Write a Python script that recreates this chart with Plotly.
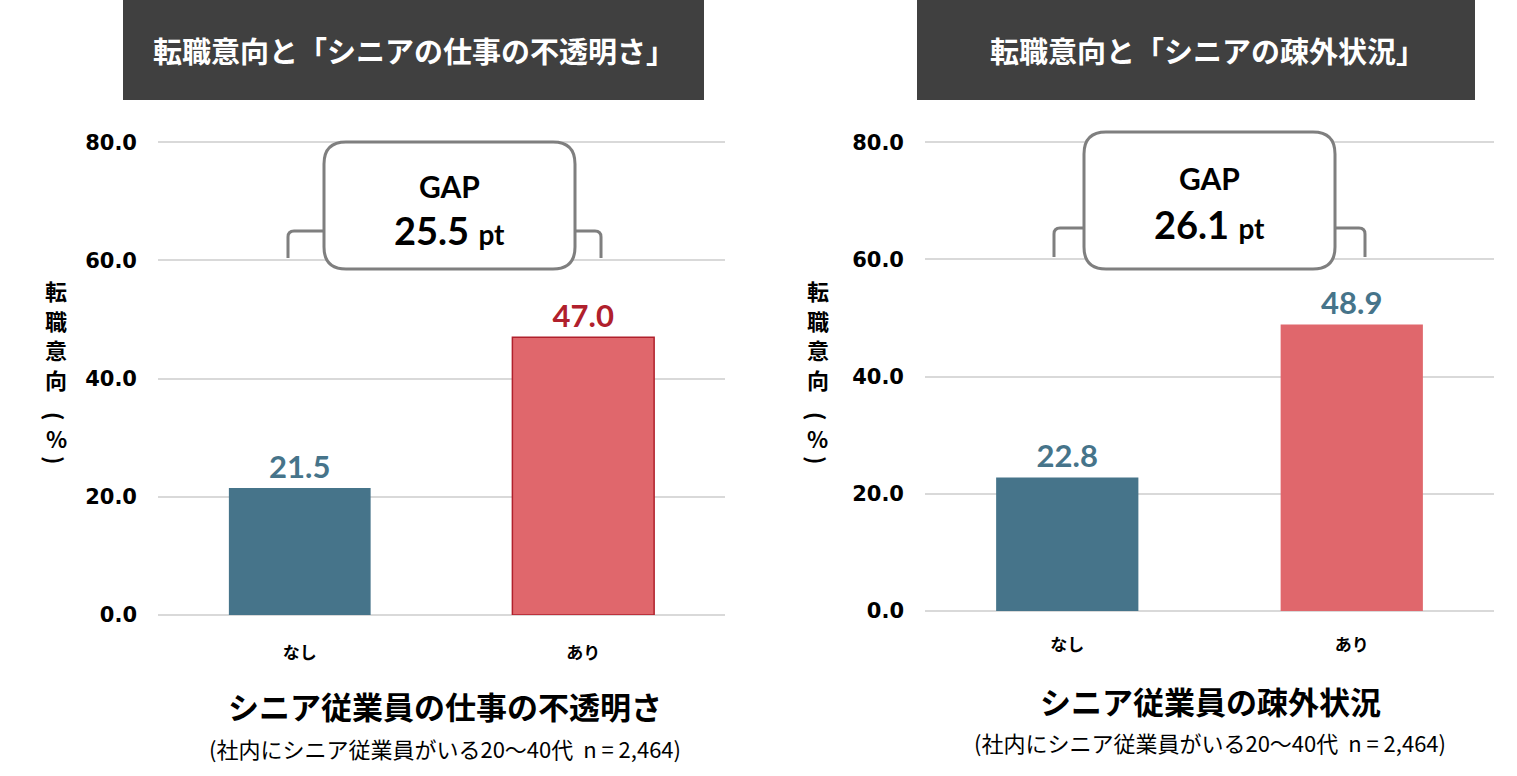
import plotly.graph_objects as go

W, H = 1517, 776

# ---- data ----
categories = ["なし", "あり"]
values_left = [21.5, 47.0]
values_right = [22.8, 48.9]
gap_left = "25.5"
gap_right = "26.1"
panel_titles = ["転職意向と「シニアの仕事の不透明さ」", "転職意向と「シニアの疎外状況」"]
x_titles = ["シニア従業員の仕事の不透明さ", "シニア従業員の疎外状況"]
sub_caption = "(社内にシニア従業員がいる20～40代  n = 2,464)"
y_title_chars = ["転", "職", "意", "向", "(", "%", ")"]
tick_vals = [0, 20, 40, 60, 80]

TEAL = "#46748A"
PINK = "#E0676C"
DARKRED = "#B0202C"
GRID = "#D9D9D9"
BOXLINE = "#7F7F7F"
JP = "Noto Sans CJK JP"
NUM = "DejaVu Sans"


def PX(x):
    return x / W


def PY(y):
    return 1 - y / H


fig = go.Figure()

fig.add_trace(go.Bar(
    x=categories, y=values_left, xaxis="x", yaxis="y",
    marker=dict(color=[TEAL, PINK], line=dict(color=["rgba(0,0,0,0)", DARKRED], width=1.5)),
    width=0.5,
    text=[f"{v:.1f}" for v in values_left], textposition="outside",
    textfont=dict(family="Lato", size=31, color=[TEAL, DARKRED], weight="bold"),
    cliponaxis=False, showlegend=False, hoverinfo="skip",
))
fig.add_trace(go.Bar(
    x=categories, y=values_right, xaxis="x2", yaxis="y2",
    marker=dict(color=[TEAL, PINK], line=dict(width=0)),
    width=0.5,
    text=[f"{v:.1f}" for v in values_right], textposition="outside",
    textfont=dict(family="Lato", size=31, color=[TEAL, TEAL], weight="bold"),
    cliponaxis=False, showlegend=False, hoverinfo="skip",
))

xcommon = dict(showgrid=False, zeroline=False, showline=False, ticks="", automargin=False,
               tickfont=dict(family=JP, size=17, color="black", weight="bold"),
               range=[-0.5, 1.5], fixedrange=True)
ycommon = dict(range=[0, 80.2], tickvals=tick_vals, ticktext=[f"{v:.1f}" for v in tick_vals],
               showgrid=True, gridcolor=GRID, gridwidth=2, zeroline=True, zerolinecolor=GRID,
               zerolinewidth=2, showline=False, ticks="", automargin=False,
               tickfont=dict(family=NUM, size=21, color="black", weight="bold"),
               ticklabelstandoff=20, fixedrange=True)

fig.update_layout(
    width=W, height=H, margin=dict(l=0, r=0, t=0, b=0, autoexpand=False),
    paper_bgcolor="white", plot_bgcolor="white",
    bargap=0.5,
    xaxis=dict(domain=[PX(158), PX(725)], anchor="y", ticklabelstandoff=26, **xcommon),
    yaxis=dict(domain=[PY(615), PY(141)], anchor="x", **ycommon),
    xaxis2=dict(domain=[PX(925), PX(1494)], anchor="y2", ticklabelstandoff=22, **xcommon),
    yaxis2=dict(domain=[PY(611), PY(141)], anchor="x2", **ycommon),
)

shapes = []
annotations = []

# title boxes
for (x0, x1), tx, title in zip([(123, 704), (917, 1475)], [414, 1207], panel_titles):
    shapes.append(dict(type="rect", xref="paper", yref="paper", x0=PX(x0), x1=PX(x1),
                       y0=PY(100), y1=PY(0), fillcolor="#404040", line=dict(width=0), layer="below"))
    annotations.append(dict(xref="paper", yref="paper", x=PX(tx), y=PY(50),
                            text=title, showarrow=False, xanchor="center", yanchor="middle",
                            font=dict(family=JP, size=29, color="white", weight="bold")))


def rrect(x0, y0, x1, y1, r):
    pts = [("M", (x0 + r, y0)), ("L", (x1 - r, y0)), ("Q", (x1, y0), (x1, y0 + r)),
           ("L", (x1, y1 - r)), ("Q", (x1, y1), (x1 - r, y1)), ("L", (x0 + r, y1)),
           ("Q", (x0, y1), (x0, y1 - r)), ("L", (x0, y0 + r)), ("Q", (x0, y0), (x0 + r, y0))]
    s = ""
    for p in pts:
        s += p[0] + " " + " ".join(f"{PX(a):.5f},{PY(b):.5f}" for a, b in p[1:]) + " "
    return s + "Z"


def bracket(xl, xr, ytop, ybot, r=6):
    s = (f"M {PX(xl):.5f},{PY(ybot):.5f} L {PX(xl):.5f},{PY(ytop + r):.5f} "
         f"Q {PX(xl):.5f},{PY(ytop):.5f} {PX(xl + r):.5f},{PY(ytop):.5f} "
         f"L {PX(xr - r):.5f},{PY(ytop):.5f} "
         f"Q {PX(xr):.5f},{PY(ytop):.5f} {PX(xr):.5f},{PY(ytop + r):.5f} "
         f"L {PX(xr):.5f},{PY(ybot):.5f}")
    return s


gap_specs = [
    dict(bl=288, br=601, btop=231, bbot=258, bx0=324, bx1=575, by0=142, by1=269, gap=gap_left, gy=186, vy=230),
    dict(bl=1054, br=1365, btop=228, bbot=257, bx0=1084, bx1=1335, by0=132, by1=269, gap=gap_right, gy=178, vy=224),
]
for g in gap_specs:
    shapes.append(dict(type="path", xref="paper", yref="paper", path=bracket(g["bl"], g["br"], g["btop"], g["bbot"]),
                       line=dict(color=BOXLINE, width=3), layer="above"))
    shapes.append(dict(type="path", xref="paper", yref="paper", path=rrect(g["bx0"], g["by0"], g["bx1"], g["by1"], 22),
                       line=dict(color=BOXLINE, width=3), fillcolor="white", layer="above"))
    cx = PX((g["bx0"] + g["bx1"]) / 2)
    annotations.append(dict(xref="paper", yref="paper", x=cx, y=PY(g["gy"]), text="GAP", showarrow=False,
                            xanchor="center", yanchor="middle",
                            font=dict(family="Lato", size=30, color="black", weight="bold")))
    annotations.append(dict(xref="paper", yref="paper", x=cx, y=PY(g["vy"]),
                            text=f"{g['gap']} <span style='font-size:28px'>pt</span>", showarrow=False,
                            xanchor="center", yanchor="middle",
                            font=dict(family="Lato", size=38, color="black", weight="bold")))

# y axis titles (vertical stacked, one glyph each; parentheses turned for vertical writing)
char_y = [290, 319.5, 349, 378.5, 416, 438, 460]
char_angle = [0, 0, 0, 0, 90, 0, 90]
for cx in [56, 818]:
    for ch, cy, ang in zip(y_title_chars, char_y, char_angle):
        annotations.append(dict(xref="paper", yref="paper", x=PX(cx), y=PY(cy),
                                text=ch, showarrow=False, textangle=ang,
                                xanchor="center", yanchor="middle",
                                font=dict(family=JP, size=22, color="black", weight="bold")))

# x titles and captions
for cx, t, ty, cy in [(445, x_titles[0], 705, 748), (1210, x_titles[1], 700, 742)]:
    annotations.append(dict(xref="paper", yref="paper", x=PX(cx), y=PY(ty), text=t, showarrow=False,
                            xanchor="center", yanchor="middle",
                            font=dict(family=JP, size=31, color="black", weight="bold")))
    annotations.append(dict(xref="paper", yref="paper", x=PX(cx), y=PY(cy), text=sub_caption, showarrow=False,
                            xanchor="center", yanchor="middle",
                            font=dict(family=JP, size=22, color="black")))

fig.update_layout(shapes=shapes, annotations=annotations)
fig.write_html("out.html", config={"displayModeBar": False},
               post_script="document.body.style.margin='0';document.body.style.overflow='hidden';")
